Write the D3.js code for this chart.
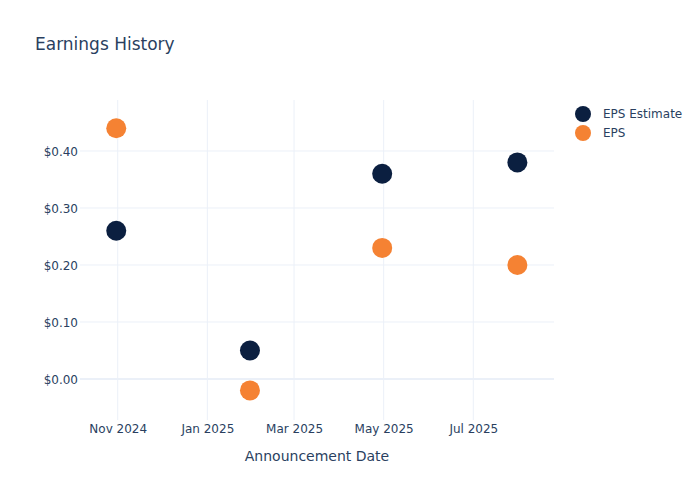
<!DOCTYPE html>
<html>
<head>
<meta charset="utf-8">
<script src="https://cdn.jsdelivr.net/npm/d3@7"></script>
<style>
  html, body { margin: 0; padding: 0; background: #fff; }
  svg { display: block; }
  text { font-family: "DejaVu Sans", Verdana, sans-serif; fill: #2a3f5f; }
</style>
</head>
<body>
<div id="chart"></div>
<script>
// ---- Data ----
const dates = ["2024-10-31", "2025-01-30", "2025-04-30", "2025-07-31"];
const epsEstimate = [0.26, 0.05, 0.36, 0.38];
const epsActual = [0.44, -0.02, 0.23, 0.20];
const seriesNames = ["EPS Estimate", "EPS"];
const seriesColors = ["#0b1f40", "#f58233"];
const xTickDates = ["2024-11-01", "2025-01-01", "2025-03-01", "2025-05-01", "2025-07-01"];
const yTickValues = [0, 0.1, 0.2, 0.3, 0.4];
const titleText = "Earnings History";
const xAxisTitle = "Announcement Date";

// ---- Layout ----
const W = 700, H = 500;
const plot = { left: 80, right: 554, top: 100, bottom: 420 };
const parse = d3.utcParse("%Y-%m-%d");

const svg = d3.select("#chart").append("svg")
  .attr("width", W).attr("height", H);

const x = d3.scaleUtc()
  .domain([new Date(Date.UTC(2024, 9, 6, 8)), new Date(Date.UTC(2025, 7, 24, 22))])
  .range([plot.left, plot.right]);
const y = d3.scaleLinear()
  .domain([-0.07193, 0.48947])
  .range([plot.bottom, plot.top]);

const grid = "#ebf0f8";

// vertical grid
const xTicks = xTickDates.map(parse);
svg.append("g").selectAll("line").data(xTicks).join("line")
  .attr("x1", d => x(d)).attr("x2", d => x(d))
  .attr("y1", plot.top).attr("y2", plot.bottom)
  .attr("stroke", grid).attr("stroke-width", 1);

// horizontal grid
svg.append("g").selectAll("line").data(yTickValues.filter(v => v !== 0)).join("line")
  .attr("x1", plot.left).attr("x2", plot.right)
  .attr("y1", d => y(d)).attr("y2", d => y(d))
  .attr("stroke", grid).attr("stroke-width", 1);

// zero line
svg.append("line")
  .attr("x1", plot.left).attr("x2", plot.right)
  .attr("y1", y(0)).attr("y2", y(0))
  .attr("stroke", grid).attr("stroke-width", 2);

// x axis (labels only)
const xAxis = d3.axisBottom(x).tickValues(xTicks)
  .tickFormat(d3.utcFormat("%b %Y")).tickSize(0).tickPadding(0);
const gx = svg.append("g").attr("transform", `translate(0,${plot.bottom})`).call(xAxis);
gx.select(".domain").remove();
gx.selectAll("text").attr("dy", null).attr("y", 13)
  .style("font-size", "12px").attr("fill", "#2a3f5f");

// y axis (labels only)
const yAxis = d3.axisLeft(y).tickValues(yTickValues)
  .tickFormat(d => "$" + d3.format(".2f")(d)).tickSize(0).tickPadding(0);
const gy = svg.append("g").attr("transform", `translate(${plot.left - 2},0)`).call(yAxis);
gy.select(".domain").remove();
gy.selectAll("text").attr("dy", "0.35em").attr("x", 0)
  .style("font-size", "12px").attr("fill", "#2a3f5f");

// markers
const series = [epsEstimate, epsActual];
series.forEach((vals, i) => {
  svg.append("g").selectAll("circle").data(vals).join("circle")
    .attr("cx", (d, j) => x(parse(dates[j])))
    .attr("cy", d => y(d))
    .attr("r", 10)
    .attr("fill", seriesColors[i]);
});

// title
svg.append("text").attr("x", 35).attr("y", 50)
  .style("font-size", "17px").text(titleText);

// x axis title
svg.append("text").attr("x", (plot.left + plot.right) / 2).attr("y", 461)
  .attr("text-anchor", "middle").style("font-size", "14px").text(xAxisTitle);

// legend
const lg = svg.append("g");
seriesNames.forEach((name, i) => {
  const cy = 114 + i * 19;
  lg.append("circle").attr("cx", 583).attr("cy", cy).attr("r", 8).attr("fill", seriesColors[i]);
  lg.append("text").attr("x", 603).attr("y", cy).attr("dy", "0.35em")
    .style("font-size", "12px").text(name);
});
</script>
</body>
</html>
